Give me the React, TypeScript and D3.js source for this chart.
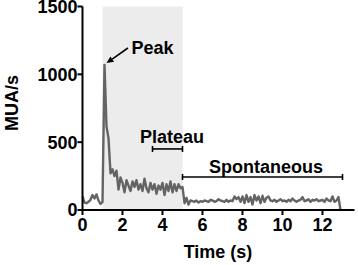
import React from "react";
import * as d3 from "d3";

// MUA rate sampled every 0.1 s from t = 0 s
const sampleStep = 0.1;
const mua = [
  100, 55, 50, 60, 75, 110, 85, 115, 70, 45,
  60, 1070, 615, 530, 270, 300, 250, 290, 150, 240,
  200, 130, 220, 180, 140, 210, 170, 220, 150, 190,
  140, 230, 160, 130, 200, 150, 190, 120, 180, 150,
  200, 110, 190, 140, 210, 130, 190, 140, 190, 160,
  170, 50, 90, 40, 70, 65, 60, 70, 55, 65,
  60, 70, 65, 60, 75, 70, 60, 65, 80, 70,
  65, 60, 75, 60, 70, 65, 100, 80, 95, 60,
  100, 50, 110, 60, 95, 40, 110, 70, 100, 50,
  105, 60, 90, 100, 70, 65, 75, 60, 70, 80,
  65, 70, 60, 75, 65, 85, 70, 60, 70, 75,
  95, 65, 70, 80, 60, 75, 70, 80, 65, 70,
  75, 60, 85, 70, 65, 100, 60, 70, 95, 0,
];
const xTicks = [0, 2, 4, 6, 8, 10, 12];
const yTicks = [0, 500, 1000, 1500];
const stimWindow = [1, 5];
const plateauRange = [3.5, 5];
const plateauLevel = 450;
const spontRange = [5, 13];
const spontLevel = 243;

const W = 358;
const H = 265;
const FONT = "'Liberation Sans', Arial, sans-serif";

export default function App() {
  const x = d3.scaleLinear().domain([0, 13.6]).range([82.5, 354.5]);
  const y = d3.scaleLinear().domain([0, 1500]).range([210, 6.5]);
  const pts = mua.map((v, i) => [i * sampleStep, v] as [number, number]);
  const line = d3
    .line<[number, number]>()
    .x((d) => x(d[0]))
    .y((d) => y(d[1]));

  const bar = (r: number[], lvl: number, key: string) => (
    <g key={key} stroke="#000" strokeWidth={1.6}>
      <line x1={x(r[0])} x2={x(r[1])} y1={y(lvl)} y2={y(lvl)} />
      <line x1={x(r[0])} x2={x(r[0])} y1={y(lvl) - 3} y2={y(lvl) + 3} />
      <line x1={x(r[1])} x2={x(r[1])} y1={y(lvl) - 3} y2={y(lvl) + 3} />
    </g>
  );

  // arrow: tail / tip in data coordinates
  const tail = [2.27, 1194];
  const tip = [1.2, 1083];
  const ax1 = x(tail[0]), ay1 = y(tail[1]), ax2 = x(tip[0]), ay2 = y(tip[1]);
  const ang = Math.atan2(ay2 - ay1, ax2 - ax1);
  const hl = 7, hw = 3.2;
  const bx = ax2 - hl * Math.cos(ang), by = ay2 - hl * Math.sin(ang);
  const head = `${ax2},${ay2} ${bx + hw * Math.sin(ang)},${by - hw * Math.cos(ang)} ${bx - hw * Math.sin(ang)},${by + hw * Math.cos(ang)}`;

  return (
    <svg
      width={W}
      height={H}
      style={{ position: "absolute", left: 0, top: 0, background: "#fff" }}
      fontFamily={FONT}
      fontWeight="bold"
    >
      <rect
        x={x(stimWindow[0])}
        y={y(1500)}
        width={x(stimWindow[1]) - x(stimWindow[0])}
        height={y(0) - y(1500)}
        fill="#ececec"
      />
      <path d={line(pts) || ""} fill="none" stroke="#646464" strokeWidth={2.4} strokeLinejoin="round" />

      {/* axes */}
      <line x1={x(0)} x2={x(0)} y1={y(1500)} y2={y(0) + 1} stroke="#000" strokeWidth={2} />
      <line x1={x(0) - 1} x2={x(13.6)} y1={y(0)} y2={y(0)} stroke="#000" strokeWidth={2} />
      {yTicks.map((t) => (
        <g key={"y" + t}>
          <line x1={x(0) - 5} x2={x(0)} y1={y(t)} y2={y(t)} stroke="#000" strokeWidth={2} />
          <text x={x(0) - 5} y={y(t)} dy="0.36em" textAnchor="end" fontSize={18}>
            {t}
          </text>
        </g>
      ))}
      {xTicks.map((t) => (
        <g key={"x" + t}>
          <line x1={x(t)} x2={x(t)} y1={y(0)} y2={y(0) + 5} stroke="#000" strokeWidth={2} />
          <text x={x(t)} y={231} textAnchor="middle" fontSize={18}>
            {t}
          </text>
        </g>
      ))}
      <text x={218} y={258} textAnchor="middle" fontSize={18}>
        Time (s)
      </text>
      <text transform="translate(17.5,103) rotate(-90)" textAnchor="middle" fontSize={18}>
        MUA/s
      </text>

      {/* annotations */}
      <line x1={ax1} y1={ay1} x2={bx} y2={by} stroke="#000" strokeWidth={1.6} />
      <polygon points={head} fill="#000" />
      <text x={x(2.45)} y={y(1150)} fontSize={18}>Peak</text>
      {bar(plateauRange, plateauLevel, "pl")}
      <text x={x(2.87)} y={y(494)} fontSize={18}>Plateau</text>
      {bar(spontRange, spontLevel, "sp")}
      <text x={x(9.17)} y={y(273)} textAnchor="middle" fontSize={18}>Spontaneous</text>
    </svg>
  );
}
